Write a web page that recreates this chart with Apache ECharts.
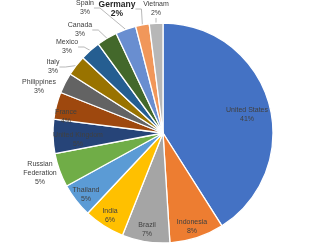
<!DOCTYPE html>
<html>
<head>
<meta charset="utf-8">
<script src="https://cdn.jsdelivr.net/npm/echarts@6/dist/echarts.min.js"></script>
<style>html,body{margin:0;padding:0;background:#fff}#c{width:326px;height:245px}</style>
</head>
<body>
<div id="c"></div>
<script>
const countries = ['United States','Indonesia','Brazil','India','Thailand','Russian\nFederation','United Kingdom','France','Philippines','Italy','Mexico','Canada','Spain','Germany','Vietnam'];
const shares = [41, 8, 7, 6, 5, 5, 5, 4, 3, 3, 3, 3, 3, 2, 2];
const palette = ['#4472C4','#ED7D31','#A5A5A5','#FFC000','#5B9BD5','#70AD47','#264478','#9E480E','#636363','#997300','#255E91','#43682B','#698ED0','#F1975A','#B7B7B7'];
const outsideLabels = ['Russian\nFederation','Philippines','Italy','Mexico','Canada','Spain','Germany','Vietnam'];
// label anchor points (layout, not data)
const labelPos = {
  'United States':[247,115], 'Indonesia':[192,227], 'Brazil':[147,230], 'India':[110,216],
  'Thailand':[86,195], 'Russian\nFederation':[40,173], 'United Kingdom':[78,140], 'France':[66,117],
  'Philippines':[39,87], 'Italy':[53,67], 'Mexico':[67,47], 'Canada':[80,30], 'Spain':[85,8],
  'Germany':[117,9], 'Vietnam':[156,9]
};
const chart = echarts.init(document.getElementById('c'), null, {renderer:'canvas'});
const data = countries.map((n,i)=>{
  const out = outsideLabels.includes(n);
  const item = {name:n, value:shares[i], itemStyle:{color:palette[i]},
    label:{position: out ? 'outside' : 'inside'}, labelLine:{show: out && n !== 'Russian\nFederation' && n !== 'Philippines'}};
  if (n === 'Germany') {
    item.label.fontWeight = 'bold'; item.label.fontSize = 8.5; item.label.color = '#262626';
  }
  return item;
});
chart.setOption({
  animation:false,
  series:[{
    type:'pie',
    center:[163,133],
    radius:[0,110],
    startAngle:90,
    clockwise:true,
    data:data,
    itemStyle:{borderColor:'#fff', borderWidth:1.3},
    label:{
      formatter:'{b}\n{c}%',
      fontFamily:'Liberation Sans, Arial, sans-serif',
      fontSize:7,
      lineHeight:9,
      color:'#404040',
      align:'center',
      overflow:'none',
      alignTo:'none'
    },
    labelLine:{lineStyle:{color:'#A6A6A6', width:0.8}, length:6, length2:6},
    labelLayout:function(p){
      const pos = labelPos[countries[p.dataIndex]];
      return {x:pos[0], y:pos[1], align:'center', verticalAlign:'middle'};
    }
  }]
});
</script>
</body>
</html>
